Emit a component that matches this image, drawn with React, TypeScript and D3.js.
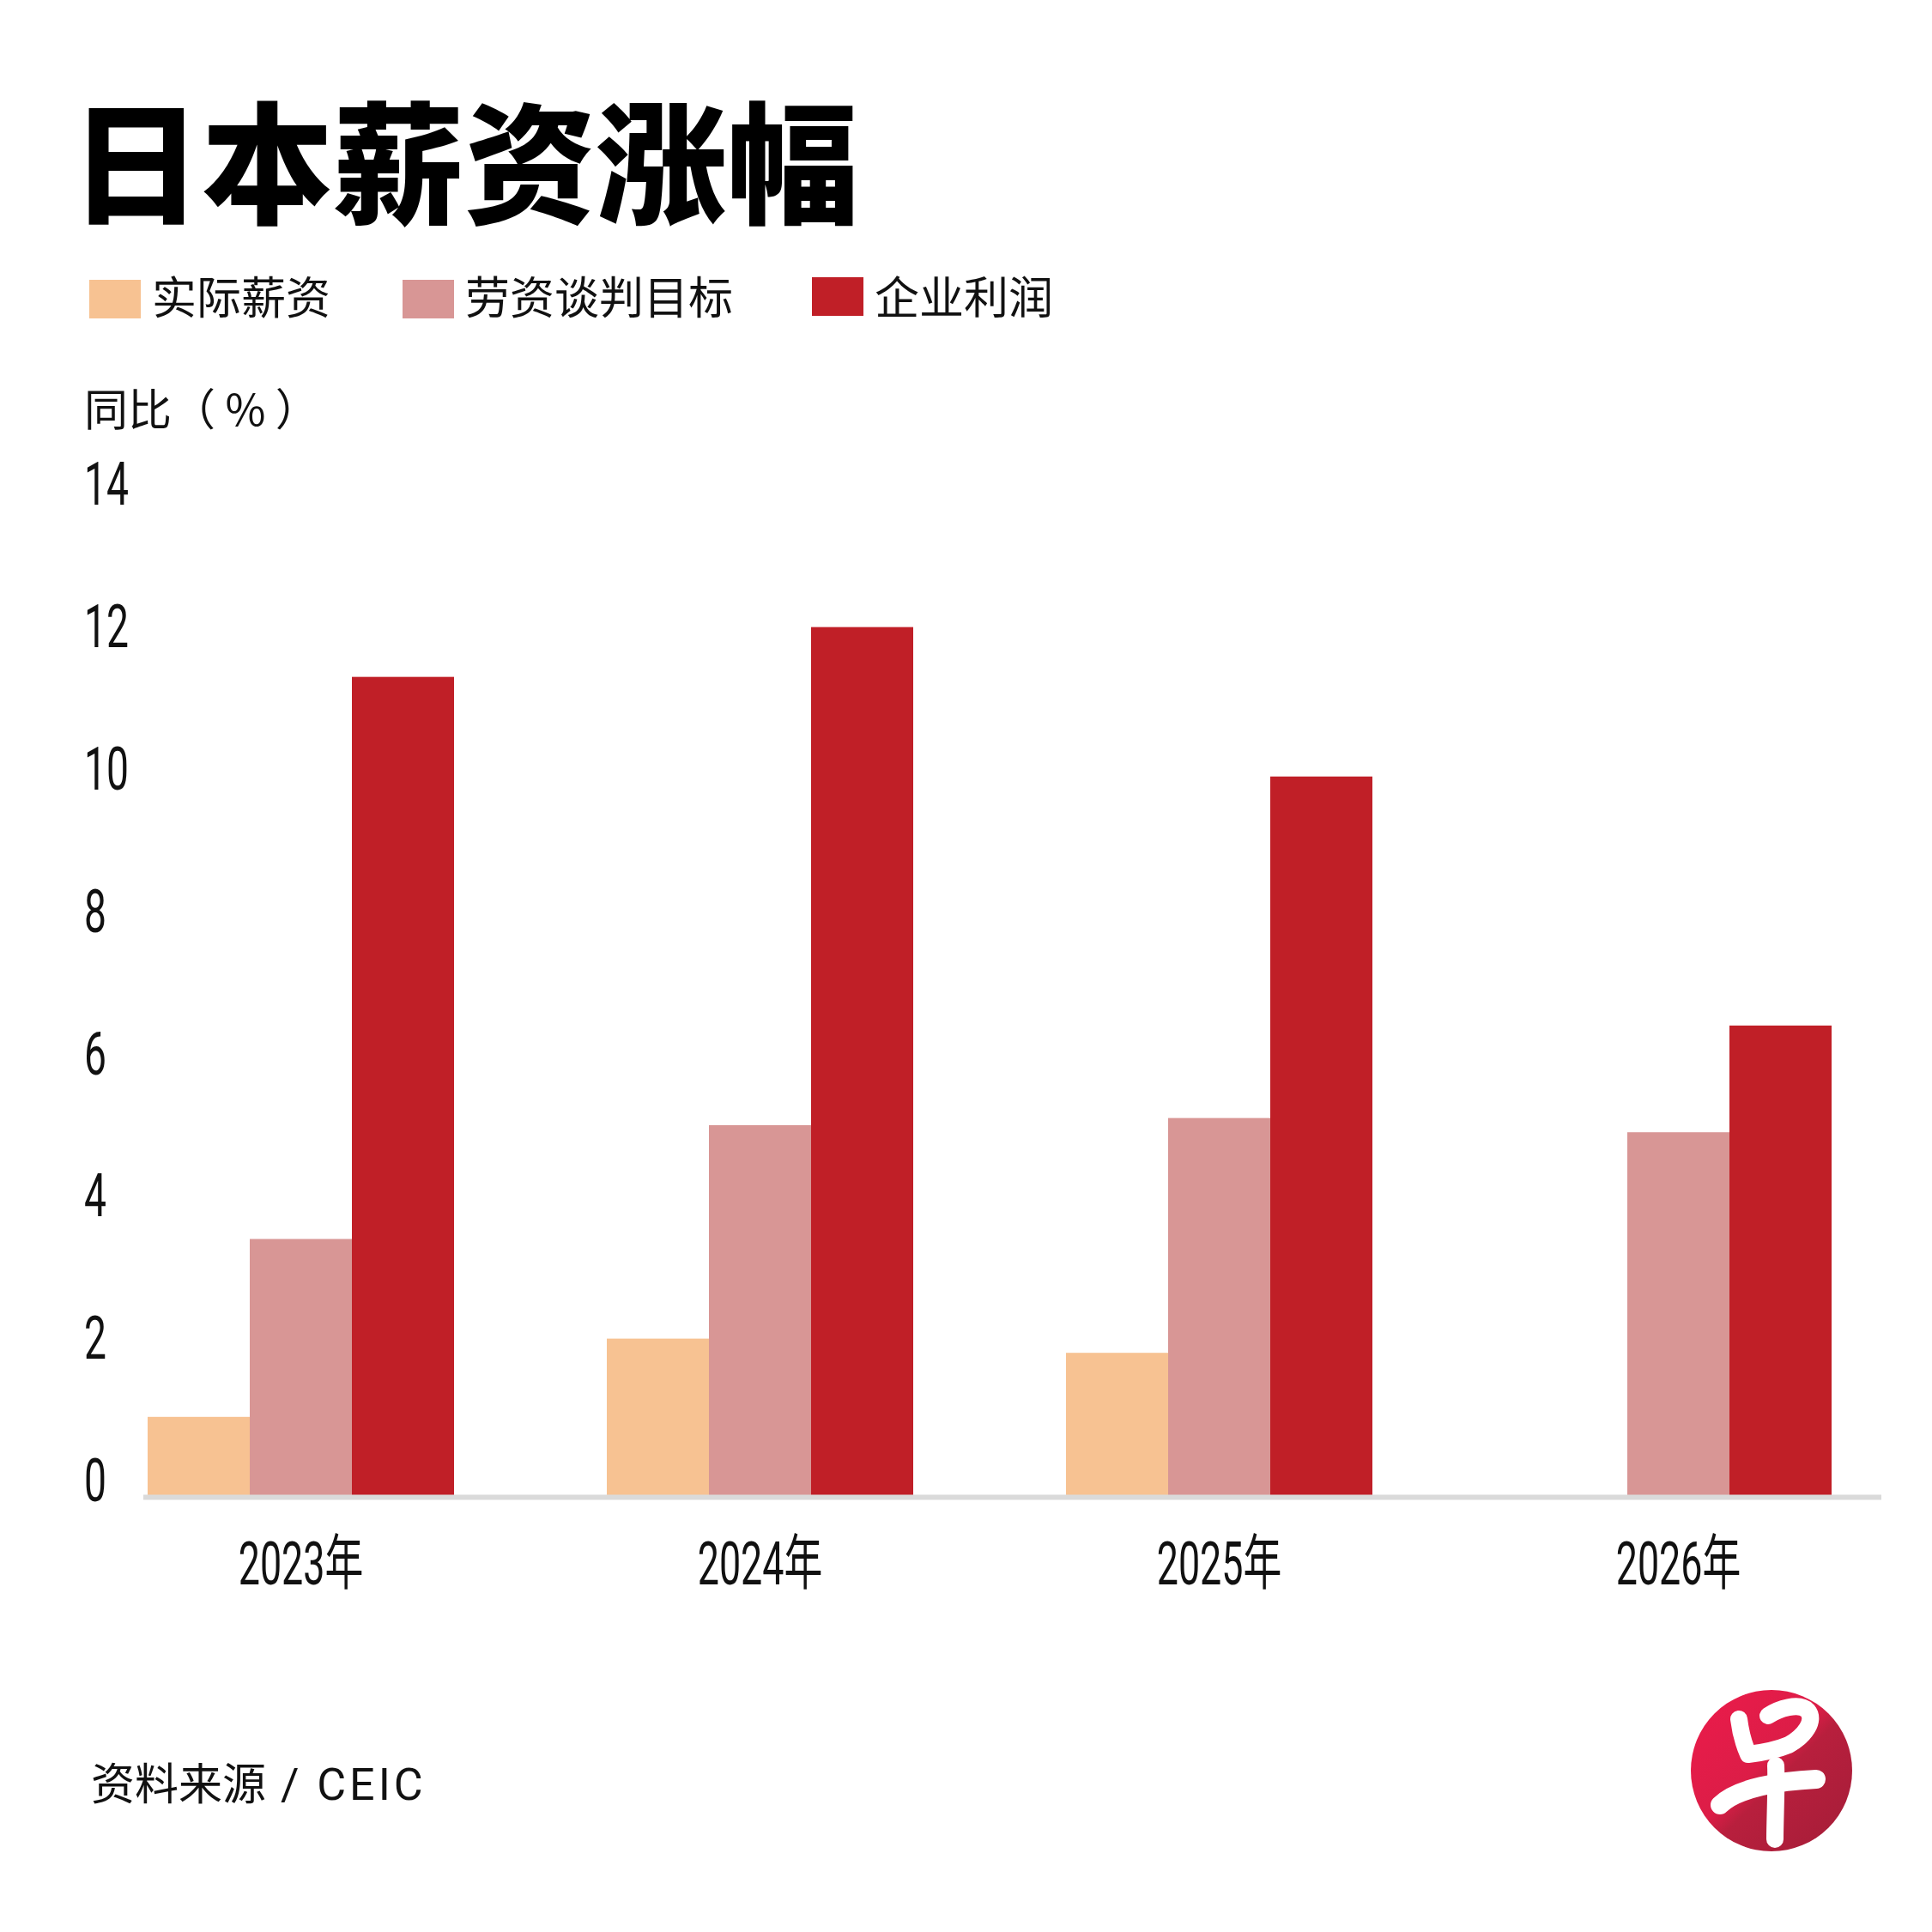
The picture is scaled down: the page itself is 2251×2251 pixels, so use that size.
import React from "react";
import * as d3 from "d3";

const years = ["2023年", "2024年", "2025年", "2026年"];
const seriesNames = ["实际薪资", "劳资谈判目标", "企业利润"];
const actualWage: (number | null)[] = [1.1, 2.2, 2.0, null];
const negotiationTarget: (number | null)[] = [3.6, 5.2, 5.3, 5.1];
const corporateProfit: (number | null)[] = [11.5, 12.2, 10.1, 6.6];
const yTicks = [0, 2, 4, 6, 8, 10, 12, 14];
const seriesColors = ["#F7C292", "#D89695", "#C01F27"];

const title = "日本薪资涨幅";
const yAxisTitle = "同比（ % ）";
const sourceLabel = "资料来源";
const sourceName = " / CEIC";

const W = 2251;
const H = 2251;
const CJK = "'Noto Sans CJK SC', 'Noto Sans', sans-serif";
const NUM = "Roboto, 'Liberation Sans', Arial, 'Noto Sans CJK SC', sans-serif";

export default function App() {
  const seriesValues = [actualWage, negotiationTarget, corporateProfit];
  const x = d3
    .scaleBand<string>()
    .domain(years)
    .range([172, 2134])
    .paddingInner(0.3327)
    .paddingOuter(0);
  const xInner = d3
    .scaleBand<string>()
    .domain(seriesNames)
    .range([0, x.bandwidth()])
    .padding(0);
  const y = d3.scaleLinear().domain([0, 14]).range([1742, 1742 - 14 * 82.9]);

  const legendX = [104, 469, 946];

  return (
    <svg
      width={W}
      height={H}
      viewBox={`0 0 ${W} ${H}`}
      style={{ position: "absolute", left: 0, top: 0, display: "block", background: "#fff" }}
    >
      <defs>
        <linearGradient id="logoGrad" x1="0" y1="0" x2="1" y2="1">
          <stop offset="0%" stopColor="#EC1B4B" />
          <stop offset="45%" stopColor="#DC1D47" />
          <stop offset="55%" stopColor="#B81F3D" />
          <stop offset="100%" stopColor="#A41D38" />
        </linearGradient>
      </defs>
      <rect x={0} y={0} width={W} height={H} fill="#fff" />

      {/* Title */}
      <text x={82} y={249} style={{ fontFamily: CJK, fontWeight: 900, fontSize: 153 }} fill="#000">
        {title}
      </text>

      {/* Legend */}
      {seriesNames.map((name, i) => (
        <g key={name}>
          <rect x={legendX[i]} y={i === 2 ? 323 : 326} width={60} height={45} fill={seriesColors[i]} />
          <text
            x={legendX[i] + 73}
            y={366}
            style={{ fontFamily: CJK, fontWeight: 400, fontSize: 52 }}
            fill="#111"
          >
            {name}
          </text>
        </g>
      ))}

      {/* Y axis title */}
      <text x={98} y={496} style={{ fontFamily: CJK, fontSize: 51 }} fill="#111">
        {yAxisTitle}
      </text>

      {/* Y tick labels */}
      {yTicks.map((t) => (
        <text
          key={t}
          transform={`translate(98, ${y(t) + 7}) scale(0.66, 1)`}
          style={{ fontFamily: NUM, fontSize: 70, fontWeight: 400 }}
          fill="#111"
        >
          {t}
        </text>
      ))}

      {/* Bars */}
      {years.map((yr, gi) => (
        <g key={yr} transform={`translate(${x(yr)}, 0)`}>
          {seriesNames.map((s, si) => {
            const v = seriesValues[si][gi];
            if (v == null) return null;
            return (
              <rect
                key={s}
                x={xInner(s)}
                y={y(v)}
                width={xInner.bandwidth()}
                height={y(0) - y(v)}
                fill={seriesColors[si]}
              />
            );
          })}
        </g>
      ))}

      {/* Baseline axis */}
      <line x1={167} x2={2192} y1={1744.5} y2={1744.5} stroke="#DADADA" strokeWidth={6} />

      {/* X labels */}
      {years.map((yr) => (
        <text
          key={yr}
          transform={`translate(${(x(yr) as number) + x.bandwidth() / 2}, 1846) scale(0.64, 1)`}
          textAnchor="middle"
          style={{ fontFamily: NUM, fontSize: 70, fontWeight: 400 }}
          fill="#111"
        >
          {yr}
        </text>
      ))}

      {/* Source */}
      <text x={106} y={2097} style={{ fontFamily: CJK, fontSize: 51 }} fill="#111">
        {sourceLabel}
        <tspan style={{ fontFamily: NUM, fontSize: 52, letterSpacing: "4px" }}>{sourceName}</tspan>
      </text>

      {/* Logo */}
      <g transform="translate(2064, 2063)">
        <circle r={94} fill="url(#logoGrad)" />
        <g fill="none" stroke="#fff" strokeLinecap="round" strokeLinejoin="round">
          <path
            d="M-38,-60 C-36,-44 -32,-30 -27,-19 C-10,-21 8,-25 20,-30 C38,-40 52,-58 42,-70 C32,-80 8,-72 -4,-64"
            strokeWidth={20}
          />
          <path d="M-60,40 C-40,20 10,12 52,10" strokeWidth={22} />
          <path d="M5,-6 C6,20 4,55 4,80" strokeWidth={20} />
        </g>
      </g>
    </svg>
  );
}
